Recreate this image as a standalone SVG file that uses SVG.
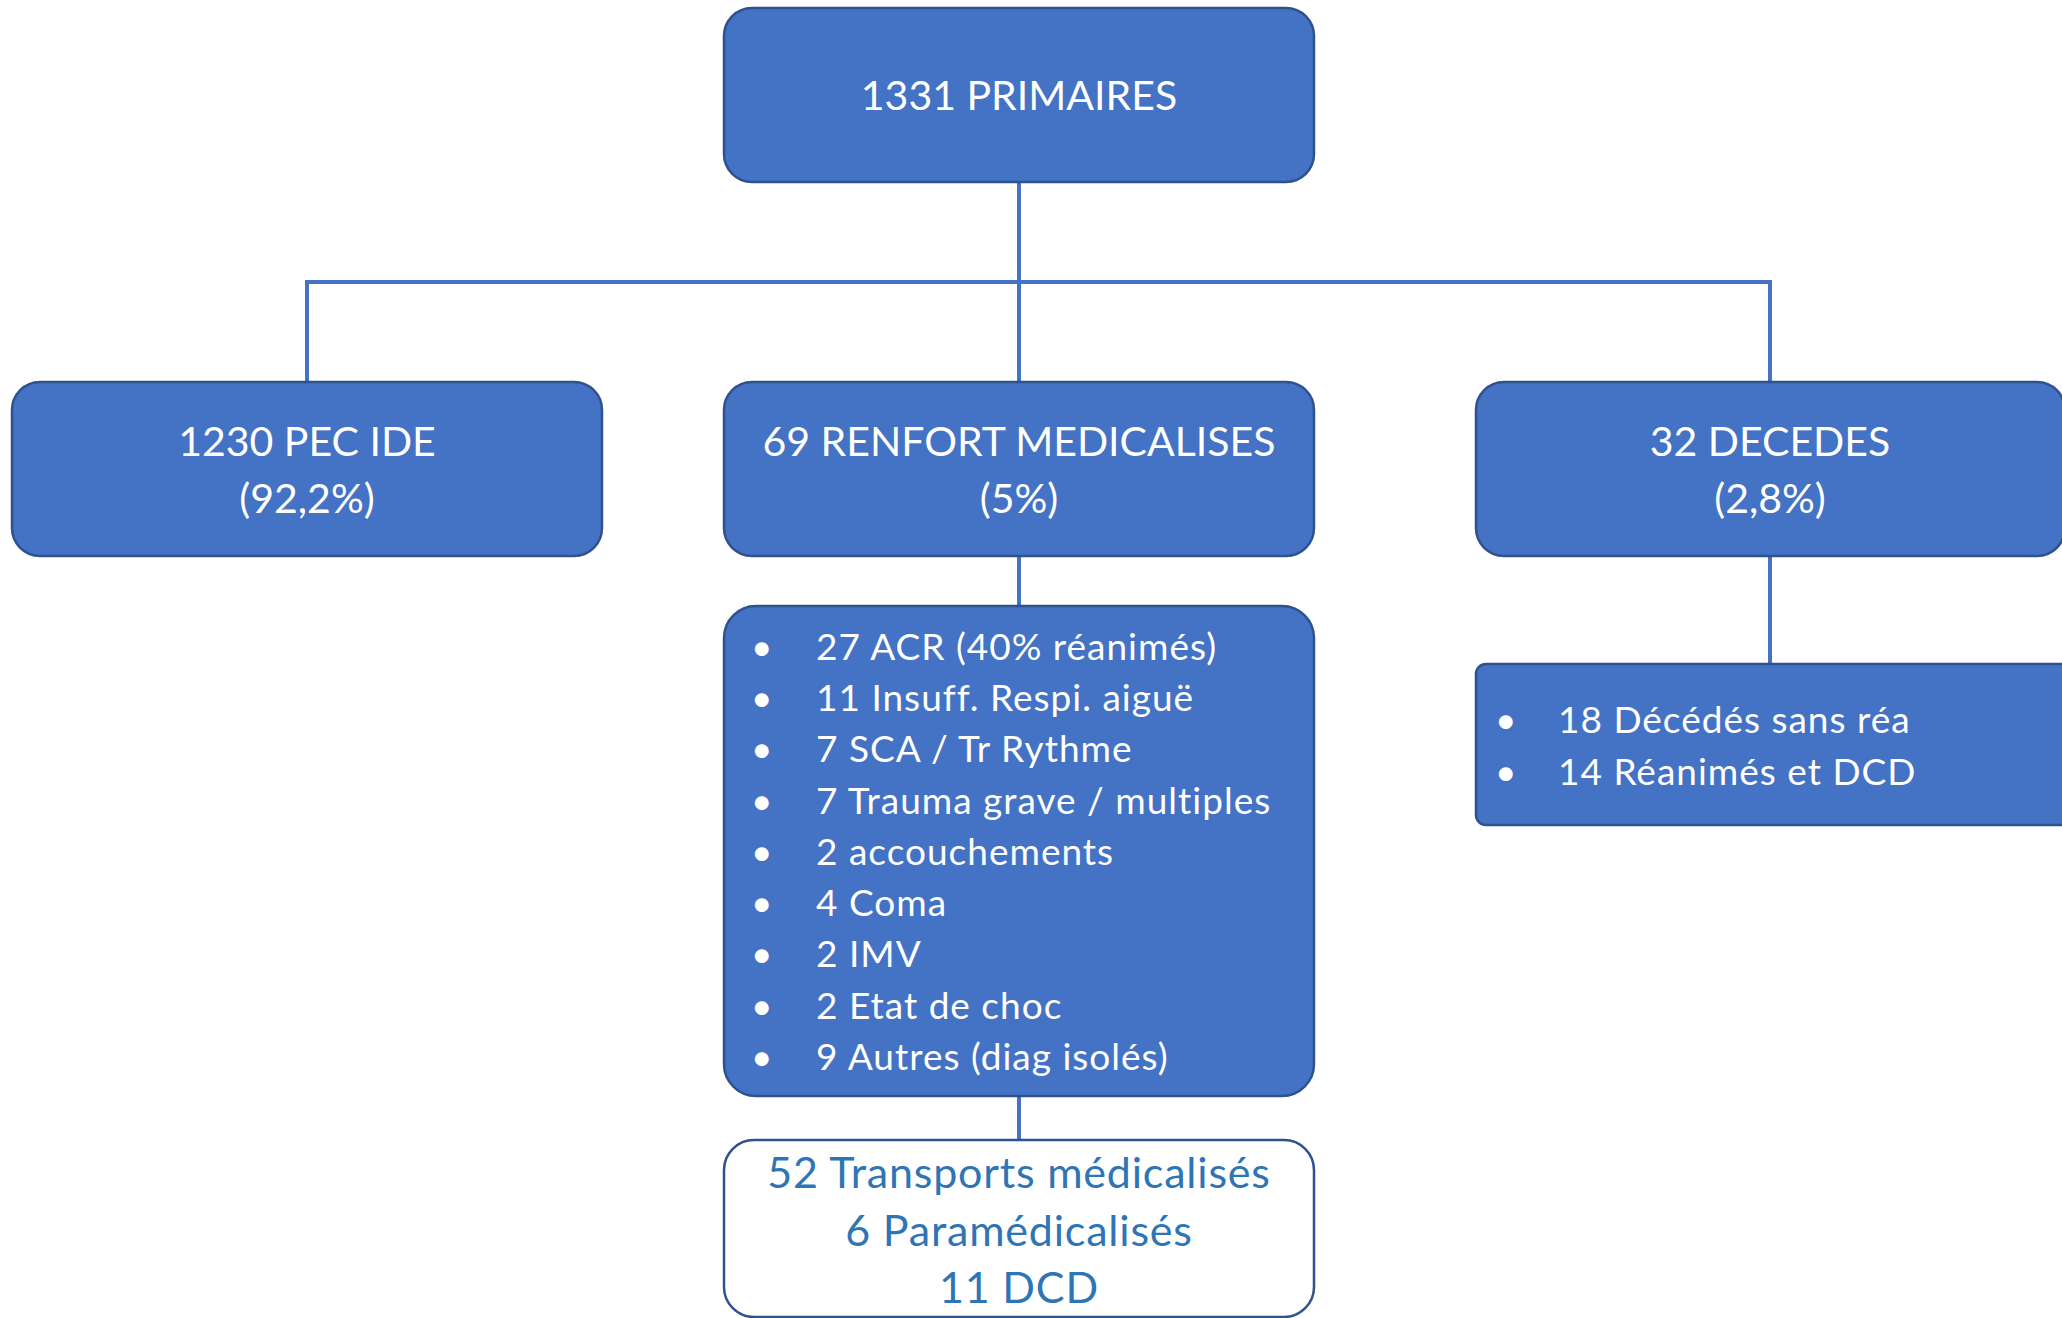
<svg xmlns="http://www.w3.org/2000/svg" width="2062" height="1318" viewBox="0 0 2062 1318">
<style>
.box{fill:#4472C4;stroke:#2F528F;stroke-width:2.5}
.wbox{fill:#FFFFFF;stroke:#2F528F;stroke-width:2.5}
.conn{stroke:#4472C4;stroke-width:4;fill:none}
.hd{font-family:Lato,"Open Sans",sans-serif;font-size:41px;fill:#FFFFFF;text-anchor:middle}
.li{font-family:Lato,"Open Sans",sans-serif;font-size:37px;letter-spacing:1px;fill:#FFFFFF}
.bt{font-family:Lato,"Open Sans",sans-serif;font-size:43px;letter-spacing:0.8px;fill:#2E75B6;text-anchor:middle}
</style>
<rect width="2062" height="1318" fill="#FFFFFF"/>
<g id="connectors">
<line class="conn" x1="1019" y1="182" x2="1019" y2="383"/>
<polyline class="conn" points="307,383 307,282 1770,282 1770,383"/>
<line class="conn" x1="1019" y1="556" x2="1019" y2="606"/>
<line class="conn" x1="1019" y1="1096" x2="1019" y2="1140"/>
<line class="conn" x1="1770" y1="556" x2="1770" y2="664"/>
</g>
<g id="n-primaires">
<rect class="box" x="724" y="8" width="590" height="174" rx="28"/>
<text class="hd" x="1019" y="110">1331 PRIMAIRES</text>
</g>
<g id="n-pec-ide">
<rect class="box" x="12" y="382" width="590" height="174" rx="28"/>
<text class="hd" x="307" y="456">1230 PEC IDE</text>
<text class="hd" x="307" y="513">(92,2%)</text>
</g>
<g id="n-renfort">
<rect class="box" x="724" y="382" width="590" height="174" rx="28"/>
<text class="hd" x="1019" y="456">69 RENFORT MEDICALISES</text>
<text class="hd" x="1019" y="513">(5%)</text>
</g>
<g id="n-decedes">
<rect class="box" x="1476" y="382" width="589" height="174" rx="28"/>
<text class="hd" x="1770" y="456">32 DECEDES</text>
<text class="hd" x="1770" y="513">(2,8%)</text>
</g>
<g id="n-diagnostics">
<rect class="box" x="724" y="606" width="590" height="490" rx="32"/>
<g class="li">
<text x="751" y="660">•</text><text x="816" y="660">27 ACR (40% réanimés)</text>
<text x="751" y="711">•</text><text x="816" y="711">11 Insuff. Respi. aiguë</text>
<text x="751" y="762">•</text><text x="816" y="762">7 SCA / Tr Rythme</text>
<text x="751" y="814">•</text><text x="816" y="814">7 Trauma grave / multiples</text>
<text x="751" y="865">•</text><text x="816" y="865">2 accouchements</text>
<text x="751" y="916">•</text><text x="816" y="916">4 Coma</text>
<text x="751" y="967">•</text><text x="816" y="967">2 IMV</text>
<text x="751" y="1019">•</text><text x="816" y="1019">2 Etat de choc</text>
<text x="751" y="1070">•</text><text x="816" y="1070">9 Autres (diag isolés)</text>
</g>
</g>
<g id="n-deces-detail">
<rect class="box" x="1476" y="664" width="600" height="161" rx="10"/>
<g class="li">
<text x="1495" y="733">•</text><text x="1558" y="733">18 Décédés sans réa</text>
<text x="1495" y="785">•</text><text x="1558" y="785">14 Réanimés et DCD</text>
</g>
</g>
<g id="n-transports">
<rect class="wbox" x="724" y="1140" width="590" height="177" rx="30"/>
<text class="bt" x="1019" y="1188">52 Transports médicalisés</text>
<text class="bt" x="1019" y="1246">6 Paramédicalisés</text>
<text class="bt" x="1019" y="1303">11 DCD</text>
</g>
</svg>
